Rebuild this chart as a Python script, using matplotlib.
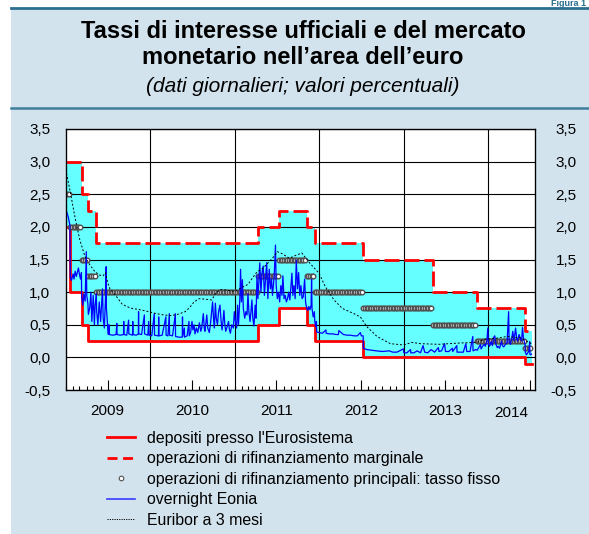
import numpy as np
import pandas as pd
import matplotlib
matplotlib.use("Agg")
import matplotlib.pyplot as plt
import matplotlib.dates as mdates
from matplotlib.lines import Line2D
from matplotlib.patches import Rectangle
from matplotlib.ticker import FuncFormatter

plt.rcParams['font.family'] = ['Liberation Sans', 'DejaVu Sans']

# --- official rates (change dates and new levels) ---
rate_dates = ["2009-01-01", "2009-01-21", "2009-03-11", "2009-04-08", "2009-05-13",
              "2011-04-13", "2011-07-13", "2011-11-09", "2011-12-14", "2012-07-11",
              "2013-05-08", "2013-11-13", "2014-06-11"]
deposit = [2.00, 1.00, 0.50, 0.25, 0.25, 0.50, 0.75, 0.50, 0.25, 0.00, 0.00, 0.00, -0.10]
mro = [2.50, 2.00, 1.50, 1.25, 1.00, 1.25, 1.50, 1.25, 1.00, 0.75, 0.50, 0.25, 0.15]
mlf = [3.00, 3.00, 2.50, 2.25, 1.75, 2.00, 2.25, 2.00, 1.75, 1.50, 1.00, 0.75, 0.40]
last_day = "2014-07-08"

# --- overnight Eonia ---
eonia_dates = [
    "2009-01-01", "2009-01-06", "2009-01-12", "2009-01-19", "2009-01-21", "2009-01-26",
    "2009-02-02", "2009-02-06", "2009-02-11", "2009-02-16", "2009-02-20", "2009-02-25",
    "2009-03-02", "2009-03-06", "2009-03-10", "2009-03-11", "2009-03-16", "2009-03-20",
    "2009-03-26", "2009-03-31", "2009-04-02", "2009-04-07", "2009-04-09", "2009-04-15",
    "2009-04-20", "2009-04-24", "2009-04-30", "2009-05-05", "2009-05-08", "2009-05-13",
    "2009-05-15", "2009-05-20", "2009-05-26", "2009-06-01", "2009-06-05", "2009-06-09",
    "2009-06-12", "2009-06-17", "2009-06-22", "2009-06-25", "2009-06-26", "2009-06-30",
    "2009-07-03", "2009-07-06", "2009-07-07", "2009-07-08", "2009-07-24", "2009-08-07",
    "2009-08-10", "2009-08-11", "2009-08-25", "2009-09-08", "2009-09-09", "2009-09-10",
    "2009-09-22", "2009-09-30", "2009-10-01", "2009-10-17", "2009-10-18", "2009-10-19",
    "2009-11-02", "2009-11-11", "2009-11-12", "2009-11-13", "2009-11-25", "2009-12-07",
    "2009-12-08", "2009-12-22", "2009-12-26", "2009-12-28",
    "2010-01-08", "2010-01-19", "2010-01-20", "2010-02-06", "2010-02-07", "2010-02-08",
    "2010-02-22", "2010-03-10", "2010-03-11", "2010-03-19", "2010-03-25", "2010-03-26",
    "2010-04-08", "2010-04-20", "2010-04-21", "2010-05-05", "2010-05-20", "2010-05-21",
    "2010-05-22", "2010-05-29", "2010-05-30", "2010-06-10", "2010-06-18", "2010-06-19",
    "2010-06-25", "2010-07-01", "2010-07-05", "2010-07-10", "2010-07-14", "2010-07-20",
    "2010-07-26", "2010-08-02", "2010-08-08", "2010-08-12", "2010-08-19", "2010-08-23",
    "2010-08-26", "2010-09-03", "2010-09-07", "2010-09-14", "2010-09-20", "2010-09-28",
    "2010-10-03", "2010-10-06", "2010-10-10", "2010-10-14", "2010-10-19", "2010-10-24",
    "2010-10-30", "2010-11-04", "2010-11-08", "2010-11-12", "2010-11-16", "2010-11-20",
    "2010-11-24", "2010-12-01", "2010-12-06", "2010-12-10", "2010-12-14", "2010-12-20",
    "2010-12-27", "2010-12-31",
    "2011-01-05", "2011-01-10", "2011-01-14", "2011-01-18", "2011-01-24", "2011-01-27",
    "2011-01-31", "2011-02-04", "2011-02-08", "2011-02-14", "2011-02-19", "2011-02-24",
    "2011-02-28", "2011-03-04", "2011-03-09", "2011-03-13", "2011-03-17", "2011-03-21",
    "2011-03-26", "2011-03-31", "2011-04-04", "2011-04-08", "2011-04-12", "2011-04-16",
    "2011-04-20", "2011-04-25", "2011-04-30", "2011-05-05", "2011-05-10", "2011-05-15",
    "2011-05-20", "2011-05-25", "2011-05-31", "2011-06-05", "2011-06-10", "2011-06-14",
    "2011-06-18", "2011-06-22", "2011-06-27", "2011-06-30", "2011-07-05", "2011-07-10",
    "2011-07-15", "2011-07-20", "2011-07-25", "2011-07-29", "2011-08-03", "2011-08-08",
    "2011-08-13", "2011-08-18", "2011-08-23", "2011-08-28", "2011-09-01", "2011-09-06",
    "2011-09-10", "2011-09-15", "2011-09-20", "2011-09-25", "2011-09-30", "2011-10-05",
    "2011-10-10", "2011-10-15", "2011-10-20", "2011-10-25", "2011-10-31", "2011-11-04",
    "2011-11-09", "2011-11-14", "2011-11-18", "2011-11-23", "2011-11-28", "2011-11-30",
    "2011-12-02", "2011-12-07", "2011-12-12", "2011-12-14", "2011-12-18", "2011-12-21",
    "2011-12-22",
    "2012-01-02", "2012-01-16", "2012-01-31", "2012-02-01", "2012-02-15", "2012-03-01",
    "2012-03-15", "2012-03-25", "2012-03-27", "2012-04-16", "2012-05-02", "2012-05-16",
    "2012-06-01", "2012-06-15", "2012-06-28", "2012-07-02", "2012-07-10", "2012-07-11",
    "2012-07-25", "2012-08-15", "2012-09-05", "2012-10-01", "2012-10-31", "2012-11-15",
    "2012-12-03", "2012-12-31",
    "2013-01-02", "2013-01-15", "2013-01-31", "2013-02-01", "2013-02-15", "2013-02-28",
    "2013-03-15", "2013-03-26", "2013-04-02", "2013-04-15", "2013-04-30", "2013-05-15",
    "2013-05-31", "2013-06-03", "2013-06-14", "2013-06-27", "2013-07-01", "2013-07-15",
    "2013-07-31", "2013-08-01", "2013-08-19", "2013-08-20", "2013-09-16", "2013-09-27",
    "2013-10-01", "2013-10-15", "2013-10-27", "2013-10-28", "2013-11-08", "2013-11-15",
    "2013-11-22", "2013-11-29", "2013-12-02", "2013-12-10", "2013-12-16", "2013-12-20",
    "2013-12-27", "2013-12-31",
    "2014-01-03", "2014-01-08", "2014-01-14", "2014-01-20", "2014-01-24", "2014-01-30",
    "2014-02-04", "2014-02-10", "2014-02-14", "2014-02-20", "2014-02-28", "2014-03-04",
    "2014-03-10", "2014-03-17", "2014-03-24", "2014-03-31", "2014-04-02", "2014-04-08",
    "2014-04-14", "2014-04-18", "2014-04-23", "2014-04-30", "2014-05-05", "2014-05-09",
    "2014-05-15", "2014-05-20", "2014-05-26", "2014-05-30", "2014-06-03", "2014-06-06",
    "2014-06-10", "2014-06-11", "2014-06-16", "2014-06-20", "2014-06-27", "2014-06-30",
    "2014-07-01", "2014-07-04", "2014-07-08"]
eonia = [
    2.30, 2.22, 2.15, 2.03, 1.22, 1.18,
    1.28, 1.20, 1.32, 1.24, 1.30, 1.37,
    1.26, 1.20, 1.30, 0.92, 0.80, 0.97,
    0.86, 1.62, 0.95, 0.82, 0.66, 0.76,
    1.00, 0.55, 0.95, 0.50, 0.78, 0.98,
    0.70, 0.50, 0.85, 0.55, 0.80, 1.05,
    0.60, 0.45, 0.90, 1.39, 0.75, 0.55,
    0.36, 0.35, 0.50, 0.35, 0.34, 0.35,
    0.52, 0.35, 0.34, 0.35, 0.55, 0.35,
    0.34, 0.57, 0.36, 0.34, 0.55, 0.35,
    0.34, 0.36, 0.70, 0.36, 0.35, 0.65,
    0.36, 0.34, 0.55, 0.34,
    0.33, 0.67, 0.34, 0.33, 0.62, 0.33,
    0.34, 0.62, 0.34, 0.33, 0.67, 0.34,
    0.33, 0.67, 0.32, 0.31, 0.31, 0.62,
    0.32, 0.45, 0.31, 0.33, 0.55, 0.33,
    0.38, 0.55, 0.42, 0.50, 0.36, 0.45,
    0.38, 0.53, 0.40, 0.45, 0.67, 0.45,
    0.40, 0.65, 0.45, 0.38, 0.55, 0.85,
    0.55, 0.45, 0.83, 0.60, 0.50, 0.70,
    0.80, 0.55, 0.42, 0.55, 0.72, 0.50,
    0.40, 0.48, 0.55, 0.42, 0.37, 0.50,
    0.45, 0.70,
    0.55, 0.45, 0.80, 0.50, 0.90, 1.35,
    0.85, 1.19, 0.75, 0.60, 0.70, 0.65,
    0.98, 0.70, 0.55, 0.70, 0.88, 0.60,
    0.48, 0.80, 0.60, 1.26, 0.90, 1.15,
    1.45, 1.00, 1.30, 1.40, 0.95, 1.20,
    1.45, 0.90, 1.35, 1.05, 1.20, 0.95,
    1.10, 1.30, 1.72, 1.10, 0.90, 1.00,
    0.85, 1.10, 0.95, 1.25, 0.90, 0.95,
    0.85, 0.90, 1.00, 0.88, 1.05, 1.29,
    0.95, 1.10, 0.90, 1.49, 1.05, 1.30,
    0.95, 1.10, 0.90, 0.93, 1.20, 0.85,
    0.75, 0.72, 0.78, 0.73, 0.80, 1.19,
    0.75, 0.62, 0.70, 0.55, 0.47, 0.55,
    0.39,
    0.38, 0.37, 0.42, 0.37, 0.36, 0.36,
    0.35, 0.35, 0.41, 0.35, 0.34, 0.34,
    0.33, 0.33, 0.38, 0.33, 0.33, 0.14,
    0.12, 0.11, 0.10, 0.09, 0.10, 0.08,
    0.08, 0.13,
    0.07, 0.07, 0.12, 0.07, 0.07, 0.10,
    0.07, 0.18, 0.08, 0.07, 0.12, 0.08,
    0.15, 0.09, 0.10, 0.21, 0.09, 0.09,
    0.14, 0.09, 0.18, 0.08, 0.08, 0.21,
    0.09, 0.09, 0.32, 0.10, 0.12, 0.11,
    0.15, 0.20, 0.13, 0.18, 0.20, 0.17,
    0.25, 0.45,
    0.20, 0.17, 0.24, 0.18, 0.30, 0.33,
    0.20, 0.15, 0.17, 0.14, 0.25, 0.18,
    0.16, 0.20, 0.22, 0.70, 0.23, 0.20,
    0.30, 0.40, 0.25, 0.45, 0.28, 0.25,
    0.35, 0.30, 0.25, 0.46, 0.30, 0.25,
    0.20, 0.08, 0.04, 0.06, 0.10, 0.24,
    0.05, 0.04, 0.05]

# --- Euribor 3 months ---
euribor_dates = [
    "2009-01-01", "2009-01-20", "2009-02-10", "2009-03-03", "2009-03-25", "2009-04-15",
    "2009-05-08", "2009-05-29", "2009-06-12", "2009-06-22", "2009-07-01", "2009-07-11",
    "2009-08-09", "2009-09-01", "2009-09-21", "2009-10-15", "2009-11-18", "2009-12-15",
    "2010-01-28", "2010-03-01", "2010-04-01", "2010-05-01", "2010-06-01", "2010-06-20",
    "2010-07-10", "2010-08-01", "2010-09-01", "2010-09-25", "2010-10-10", "2010-11-01",
    "2010-12-01", "2011-01-03", "2011-02-01", "2011-03-01", "2011-03-20", "2011-04-08",
    "2011-05-02", "2011-06-14", "2011-07-05", "2011-07-25", "2011-08-26", "2011-09-20",
    "2011-10-19", "2011-11-16", "2012-01-01", "2012-01-29", "2012-03-06", "2012-04-11",
    "2012-05-31", "2012-06-28", "2012-07-26", "2012-09-08", "2012-11-05", "2013-01-01",
    "2013-02-06", "2013-03-15", "2013-06-01", "2013-09-01", "2013-11-14", "2013-12-20",
    "2014-02-01", "2014-03-24", "2014-05-20", "2014-06-15", "2014-07-08"]
euribor = [
    2.88, 2.55, 2.15, 1.80, 1.55, 1.42,
    1.31, 1.26, 1.25, 1.30, 1.15, 1.05,
    0.93, 0.82, 0.78, 0.75, 0.73, 0.71,
    0.67, 0.65, 0.64, 0.66, 0.70, 0.76,
    0.85, 0.90, 0.89, 0.88, 0.98, 1.04,
    1.03, 1.01, 1.07, 1.12, 1.22, 1.31,
    1.36, 1.52, 1.62, 1.59, 1.52, 1.56,
    1.60, 1.47, 1.29, 1.08, 0.88, 0.75,
    0.67, 0.62, 0.47, 0.32, 0.21, 0.19,
    0.23, 0.21, 0.20, 0.22, 0.23, 0.28,
    0.29, 0.32, 0.30, 0.25, 0.21]

years = [2009, 2010, 2011, 2012, 2013, 2014]
year_labels = ["2009", "2010", "2011", "2012", "2013", "2014"]

legend_labels = ["depositi presso l'Eurosistema",
                 "operazioni di rifinanziamento marginale",
                 "operazioni di rifinanziamento principali: tasso fisso",
                 "overnight Eonia",
                 "Euribor a 3 mesi"]

# step series, extended to the last day of data
step_x = pd.to_datetime(rate_dates + [last_day])
dep_y = deposit + deposit[-1:]
mlf_y = mlf + mlf[-1:]

# fixed-rate MRO: one marker per weekly operation
mro_x, mro_y = [], []
for i in range(len(mro)):
    wk = pd.date_range(step_x[i], step_x[i + 1] - pd.Timedelta(days=1), freq="7D")
    mro_x.extend(wk)
    mro_y.extend([mro[i]] * len(wk))

W, H = 589, 534
fig = plt.figure(figsize=(W / 100, H / 100), dpi=100)
fig.patch.set_facecolor("white")

# background panel and title bar lines
fig.add_artist(Rectangle((11 / W, 0), 1 - 11 / W, (H - 8) / H, transform=fig.transFigure,
                         facecolor="#d2e3ed", edgecolor="none", zorder=-10))
fig.add_artist(Line2D([11 / W, 1], [(H - 7.5) / H] * 2, color="#2b6f8f", lw=2.0, zorder=-5))
fig.add_artist(Line2D([11 / W, 1], [(H - 108) / H] * 2, color="#3f7f9d", lw=1.8, zorder=-5))
fig.text(586 / W, (H - 6.3) / H, "Figura 1", color="#2b6f8f", fontsize=6.5, weight="bold",
         ha="right", va="baseline")

fig.text(303 / W, (H - 32) / H, "Tassi di interesse ufficiali e del mercato",
         ha="center", va="center", fontsize=17, weight="bold")
fig.text(303 / W, (H - 58) / H, "monetario nell\u2019area dell\u2019euro",
         ha="center", va="center", fontsize=17, weight="bold")
fig.text(303 / W, (H - 87) / H, "(dati giornalieri; valori percentuali)",
         ha="center", va="center", fontsize=15, style="italic")

ax = fig.add_axes([65.7 / W, (H - 390) / H, (535 - 65.7) / W, (390 - 129) / H])
ax.set_facecolor("white")
ax.set_axisbelow("line")

ax.fill_between(step_x, dep_y, mlf_y, step="post", color="#66ffff", lw=0, zorder=1)
for y in years[1:]:
    ax.axvline(pd.Timestamp(f"{y}-01-01"), color="black", lw=0.8, zorder=1.5)

ax.step(step_x, dep_y, where="post", color="#ff0000", lw=2, zorder=3)
ax.step(step_x, mlf_y, where="post", color="#ff0000", lw=2, ls=(0, (5.4, 1.8)), zorder=3)
ax.plot(mro_x, mro_y, ls="none", marker="o", ms=3.3, mfc="white", mec="#505050", mew=1.0,
        zorder=4)
ax.plot(pd.to_datetime(eonia_dates), eonia, color="#0000ff", lw=0.9, zorder=5)
ax.plot(pd.to_datetime(euribor_dates), euribor, color="black", lw=0.7,
        ls=(0, (2, 2)), zorder=6)

ax.set_ylim(-0.5, 3.5)
ax.set_xlim(pd.Timestamp("2009-01-01"), pd.Timestamp("2014-07-23"))
ax.set_yticks(np.arange(-0.5, 3.51, 0.5))
ax.grid(axis="y", color="black", lw=0.8)
comma = FuncFormatter(lambda v, p: f"{v:.1f}".replace(".", ","))
ax.yaxis.set_major_formatter(comma)
ax.tick_params(axis="y", length=0, pad=11, labelsize=11)

ax.set_xticks([pd.Timestamp(f"{y}-07-01") for y in years])
ax.set_xticklabels(year_labels[:-1] + [""])
ax.xaxis.set_minor_locator(mdates.MonthLocator())
ax.tick_params(axis="x", which="major", direction="in", length=7, width=0.8, pad=10,
               labelsize=11)
ax.tick_params(axis="x", which="minor", direction="in", length=3, width=0.8)
ax.annotate(year_labels[-1], xy=(pd.Timestamp("2014-04-10"), 0),
            xycoords=("data", "axes fraction"), xytext=(0, -11.8), textcoords="offset points",
            ha="center", va="top", fontsize=11)
for s in ax.spines.values():
    s.set_linewidth(0.9)

# right-hand scale
ax2 = ax.twinx()
ax2.set_ylim(ax.get_ylim())
ax2.set_yticks(np.arange(-0.5, 3.51, 0.5))
ax2.yaxis.set_major_formatter(comma)
ax2.tick_params(axis="y", length=0, pad=30, labelsize=11)
for t in ax2.get_yticklabels():
    t.set_horizontalalignment("right")

handles = [Line2D([], [], color="#ff0000", lw=2),
           Line2D([], [], color="#ff0000", lw=2, ls=(0, (3.6, 2.0))),
           Line2D([], [], ls="none", marker="o", ms=3.3, mfc="white", mec="#505050", mew=0.8),
           Line2D([], [], color="#3a3aff", lw=1.2),
           Line2D([], [], color="black", lw=0.7, ls=(0, (1.2, 1.2)))]
fig.legend(handles, legend_labels, loc="upper left", bbox_to_anchor=(107 / W, (H - 431) / H),
           frameon=False, fontsize=11.4, handlelength=1.77, handletextpad=0.76,
           labelspacing=0.34, borderpad=0, borderaxespad=0)

fig.savefig("out.png", dpi=100, facecolor=fig.get_facecolor())
